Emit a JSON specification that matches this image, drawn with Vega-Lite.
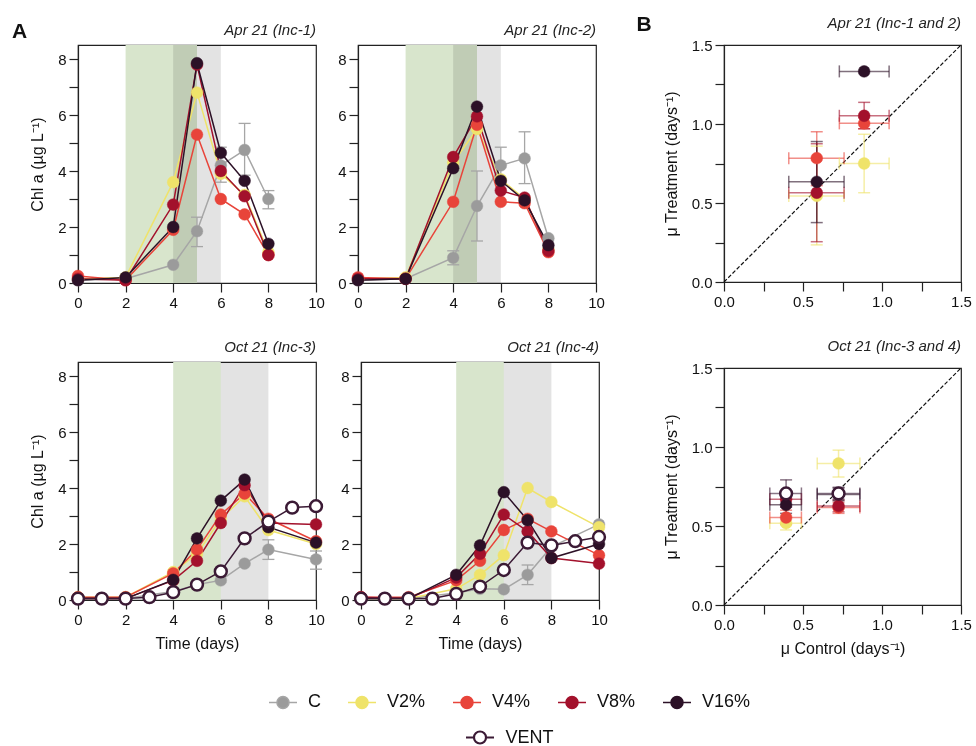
{
 "$schema": "https://vega.github.io/schema/vega-lite/v6.json",
 "padding": {"left": 12, "top": 14, "right": 2, "bottom": 0},
 "background": "white",
 "datasets": {
  "shade": [
   {"p":"I1","k":"g","t":2,"t2":5},{"p":"I1","k":"w","t":4,"t2":6},
   {"p":"I2","k":"g","t":2,"t2":5},{"p":"I2","k":"w","t":4,"t2":6},
   {"p":"I3","k":"g","t":4,"t2":6},{"p":"I3","k":"w","t":6,"t2":8},
   {"p":"I4","k":"g","t":4,"t2":6},{"p":"I4","k":"w","t":6,"t2":8}
  ],
  "ts": [
   {"p":"I1","s":"C","t":0,"v":0.1},{"p":"I1","s":"C","t":2,"v":0.15},{"p":"I1","s":"C","t":4,"v":0.65},{"p":"I1","s":"C","t":5,"v":1.85,"lo":1.3,"hi":2.35},{"p":"I1","s":"C","t":6,"v":4.2,"lo":3.6,"hi":4.85},{"p":"I1","s":"C","t":7,"v":4.75,"lo":3.85,"hi":5.7},{"p":"I1","s":"C","t":8,"v":3.0,"lo":2.65,"hi":3.3},
   {"p":"I1","s":"V2%","t":0,"v":0.15},{"p":"I1","s":"V2%","t":2,"v":0.2},{"p":"I1","s":"V2%","t":4,"v":3.6},{"p":"I1","s":"V2%","t":5,"v":6.8},{"p":"I1","s":"V2%","t":6,"v":3.9},{"p":"I1","s":"V2%","t":7,"v":3.15},{"p":"I1","s":"V2%","t":8,"v":1.1},
   {"p":"I1","s":"V4%","t":0,"v":0.25},{"p":"I1","s":"V4%","t":2,"v":0.1},{"p":"I1","s":"V4%","t":4,"v":1.9},{"p":"I1","s":"V4%","t":5,"v":5.3},{"p":"I1","s":"V4%","t":6,"v":3.0},{"p":"I1","s":"V4%","t":7,"v":2.45},{"p":"I1","s":"V4%","t":8,"v":1.0},
   {"p":"I1","s":"V8%","t":0,"v":0.15},{"p":"I1","s":"V8%","t":2,"v":0.1},{"p":"I1","s":"V8%","t":4,"v":2.8},{"p":"I1","s":"V8%","t":5,"v":7.8},{"p":"I1","s":"V8%","t":6,"v":4.0},{"p":"I1","s":"V8%","t":7,"v":3.1},{"p":"I1","s":"V8%","t":8,"v":1.0},
   {"p":"I1","s":"V16%","t":0,"v":0.1},{"p":"I1","s":"V16%","t":2,"v":0.2},{"p":"I1","s":"V16%","t":4,"v":2.0},{"p":"I1","s":"V16%","t":5,"v":7.85},{"p":"I1","s":"V16%","t":6,"v":4.65},{"p":"I1","s":"V16%","t":7,"v":3.65},{"p":"I1","s":"V16%","t":8,"v":1.4},

   {"p":"I2","s":"C","t":0,"v":0.1},{"p":"I2","s":"C","t":2,"v":0.15},{"p":"I2","s":"C","t":4,"v":0.9,"lo":0.65,"hi":1.15},{"p":"I2","s":"C","t":5,"v":2.75,"lo":1.5,"hi":4.0},{"p":"I2","s":"C","t":6,"v":4.2,"lo":3.5,"hi":4.85},{"p":"I2","s":"C","t":7,"v":4.45,"lo":3.55,"hi":5.4},{"p":"I2","s":"C","t":8,"v":1.6},
   {"p":"I2","s":"V2%","t":0,"v":0.15},{"p":"I2","s":"V2%","t":2,"v":0.2},{"p":"I2","s":"V2%","t":4,"v":4.3},{"p":"I2","s":"V2%","t":5,"v":5.5},{"p":"I2","s":"V2%","t":6,"v":3.7},{"p":"I2","s":"V2%","t":7,"v":3.0},{"p":"I2","s":"V2%","t":8,"v":1.2},
   {"p":"I2","s":"V4%","t":0,"v":0.2},{"p":"I2","s":"V4%","t":2,"v":0.15},{"p":"I2","s":"V4%","t":4,"v":2.9},{"p":"I2","s":"V4%","t":5,"v":5.65},{"p":"I2","s":"V4%","t":6,"v":2.9},{"p":"I2","s":"V4%","t":7,"v":2.85},{"p":"I2","s":"V4%","t":8,"v":1.1},
   {"p":"I2","s":"V8%","t":0,"v":0.15},{"p":"I2","s":"V8%","t":2,"v":0.15},{"p":"I2","s":"V8%","t":4,"v":4.5},{"p":"I2","s":"V8%","t":5,"v":5.95},{"p":"I2","s":"V8%","t":6,"v":3.3},{"p":"I2","s":"V8%","t":7,"v":3.05},{"p":"I2","s":"V8%","t":8,"v":1.15},
   {"p":"I2","s":"V16%","t":0,"v":0.1},{"p":"I2","s":"V16%","t":2,"v":0.15},{"p":"I2","s":"V16%","t":4,"v":4.1},{"p":"I2","s":"V16%","t":5,"v":6.3},{"p":"I2","s":"V16%","t":6,"v":3.65},{"p":"I2","s":"V16%","t":7,"v":2.95},{"p":"I2","s":"V16%","t":8,"v":1.35},

   {"p":"I3","s":"C","t":0,"v":0.05},{"p":"I3","s":"C","t":2,"v":0.05},{"p":"I3","s":"C","t":4,"v":0.3},{"p":"I3","s":"C","t":5,"v":0.55},{"p":"I3","s":"C","t":6,"v":0.7},{"p":"I3","s":"C","t":7,"v":1.3},{"p":"I3","s":"C","t":8,"v":1.8,"lo":1.45,"hi":2.15},{"p":"I3","s":"C","t":10,"v":1.45,"lo":1.1,"hi":1.75},
   {"p":"I3","s":"V2%","t":0,"v":0.1},{"p":"I3","s":"V2%","t":2,"v":0.1},{"p":"I3","s":"V2%","t":4,"v":1.0},{"p":"I3","s":"V2%","t":5,"v":1.65},{"p":"I3","s":"V2%","t":6,"v":2.9},{"p":"I3","s":"V2%","t":7,"v":3.7},{"p":"I3","s":"V2%","t":8,"v":2.5},{"p":"I3","s":"V2%","t":10,"v":2.0},
   {"p":"I3","s":"V4%","t":0,"v":0.1},{"p":"I3","s":"V4%","t":2,"v":0.1},{"p":"I3","s":"V4%","t":4,"v":0.95},{"p":"I3","s":"V4%","t":5,"v":1.8},{"p":"I3","s":"V4%","t":6,"v":3.05},{"p":"I3","s":"V4%","t":7,"v":3.8},{"p":"I3","s":"V4%","t":8,"v":2.9},{"p":"I3","s":"V4%","t":10,"v":2.1},
   {"p":"I3","s":"V8%","t":0,"v":0.05},{"p":"I3","s":"V8%","t":2,"v":0.05},{"p":"I3","s":"V8%","t":4,"v":0.7},{"p":"I3","s":"V8%","t":5,"v":1.4},{"p":"I3","s":"V8%","t":6,"v":2.75},{"p":"I3","s":"V8%","t":7,"v":4.1},{"p":"I3","s":"V8%","t":8,"v":2.75},{"p":"I3","s":"V8%","t":10,"v":2.7},
   {"p":"I3","s":"V16%","t":0,"v":0.05},{"p":"I3","s":"V16%","t":2,"v":0.05},{"p":"I3","s":"V16%","t":4,"v":0.72},{"p":"I3","s":"V16%","t":5,"v":2.2},{"p":"I3","s":"V16%","t":6,"v":3.55},{"p":"I3","s":"V16%","t":7,"v":4.3},{"p":"I3","s":"V16%","t":8,"v":2.6},{"p":"I3","s":"V16%","t":10,"v":2.05},
   {"p":"I3","s":"VENT","t":0,"v":0.05},{"p":"I3","s":"VENT","t":1,"v":0.05},{"p":"I3","s":"VENT","t":2,"v":0.05},{"p":"I3","s":"VENT","t":3,"v":0.1},{"p":"I3","s":"VENT","t":4,"v":0.28},{"p":"I3","s":"VENT","t":5,"v":0.55},{"p":"I3","s":"VENT","t":6,"v":1.02},{"p":"I3","s":"VENT","t":7,"v":2.2},{"p":"I3","s":"VENT","t":8,"v":2.8},{"p":"I3","s":"VENT","t":9,"v":3.3},{"p":"I3","s":"VENT","t":10,"v":3.35},

   {"p":"I4","s":"C","t":0,"v":0.05},{"p":"I4","s":"C","t":2,"v":0.05},{"p":"I4","s":"C","t":4,"v":0.25},{"p":"I4","s":"C","t":5,"v":0.4},{"p":"I4","s":"C","t":6,"v":0.38},{"p":"I4","s":"C","t":7,"v":0.9,"lo":0.55,"hi":1.25},{"p":"I4","s":"C","t":8,"v":1.9},{"p":"I4","s":"C","t":10,"v":2.7},
   {"p":"I4","s":"V2%","t":0,"v":0.05},{"p":"I4","s":"V2%","t":2,"v":0.05},{"p":"I4","s":"V2%","t":4,"v":0.4},{"p":"I4","s":"V2%","t":5,"v":0.9},{"p":"I4","s":"V2%","t":6,"v":1.6},{"p":"I4","s":"V2%","t":7,"v":4.0},{"p":"I4","s":"V2%","t":8,"v":3.5},{"p":"I4","s":"V2%","t":10,"v":2.6},
   {"p":"I4","s":"V4%","t":0,"v":0.1},{"p":"I4","s":"V4%","t":2,"v":0.1},{"p":"I4","s":"V4%","t":4,"v":0.7},{"p":"I4","s":"V4%","t":5,"v":1.4},{"p":"I4","s":"V4%","t":6,"v":2.5},{"p":"I4","s":"V4%","t":7,"v":2.9},{"p":"I4","s":"V4%","t":8,"v":2.45},{"p":"I4","s":"V4%","t":10,"v":1.6},
   {"p":"I4","s":"V8%","t":0,"v":0.1},{"p":"I4","s":"V8%","t":2,"v":0.05},{"p":"I4","s":"V8%","t":4,"v":0.8},{"p":"I4","s":"V8%","t":5,"v":1.65},{"p":"I4","s":"V8%","t":6,"v":3.05},{"p":"I4","s":"V8%","t":7,"v":2.45},{"p":"I4","s":"V8%","t":8,"v":1.5},{"p":"I4","s":"V8%","t":10,"v":1.3},
   {"p":"I4","s":"V16%","t":0,"v":0.05},{"p":"I4","s":"V16%","t":2,"v":0.05},{"p":"I4","s":"V16%","t":4,"v":0.9},{"p":"I4","s":"V16%","t":5,"v":1.95},{"p":"I4","s":"V16%","t":6,"v":3.85},{"p":"I4","s":"V16%","t":7,"v":2.85},{"p":"I4","s":"V16%","t":8,"v":1.5},{"p":"I4","s":"V16%","t":10,"v":2.0},
   {"p":"I4","s":"VENT","t":0,"v":0.05},{"p":"I4","s":"VENT","t":1,"v":0.05},{"p":"I4","s":"VENT","t":2,"v":0.05},{"p":"I4","s":"VENT","t":3,"v":0.05},{"p":"I4","s":"VENT","t":4,"v":0.22},{"p":"I4","s":"VENT","t":5,"v":0.48},{"p":"I4","s":"VENT","t":6,"v":1.07},{"p":"I4","s":"VENT","t":7,"v":2.05},{"p":"I4","s":"VENT","t":8,"v":1.95},{"p":"I4","s":"VENT","t":9,"v":2.1},{"p":"I4","s":"VENT","t":10,"v":2.25}
  ],
  "mu": [
   {"p":"A","s":"V2%","x":0.587,"y":0.545,"xlo":0.41,"xhi":0.76,"ylo":0.235,"yhi":0.86},
   {"p":"A","s":"V4%","x":0.587,"y":0.784,"xlo":0.41,"xhi":0.76,"ylo":0.61,"yhi":0.951},
   {"p":"A","s":"V8%","x":0.587,"y":0.565,"xlo":0.41,"xhi":0.76,"ylo":0.255,"yhi":0.875},
   {"p":"A","s":"V16%","x":0.587,"y":0.634,"xlo":0.41,"xhi":0.76,"ylo":0.376,"yhi":0.889},
   {"p":"A","s":"V2%","x":0.887,"y":0.75,"xlo":0.73,"xhi":1.045,"ylo":0.565,"yhi":0.935},
   {"p":"A","s":"V4%","x":0.887,"y":1.004,"xlo":0.73,"xhi":1.045,"ylo":0.97,"yhi":1.04},
   {"p":"A","s":"V8%","x":0.887,"y":1.052,"xlo":0.73,"xhi":1.045,"ylo":0.97,"yhi":1.137},
   {"p":"A","s":"V16%","x":0.887,"y":1.333,"xlo":0.73,"xhi":1.045},
   {"p":"O","s":"V2%","x":0.393,"y":0.518,"xlo":0.29,"xhi":0.49,"ylo":0.475,"yhi":0.56},
   {"p":"O","s":"V4%","x":0.393,"y":0.554,"xlo":0.29,"xhi":0.49,"ylo":0.51,"yhi":0.6},
   {"p":"O","s":"V8%","x":0.393,"y":0.67,"xlo":0.29,"xhi":0.49,"ylo":0.62,"yhi":0.72},
   {"p":"O","s":"V16%","x":0.393,"y":0.634,"xlo":0.29,"xhi":0.49,"ylo":0.58,"yhi":0.69},
   {"p":"O","s":"VENT","x":0.393,"y":0.706,"xlo":0.29,"xhi":0.49,"ylo":0.62,"yhi":0.792},
   {"p":"O","s":"V2%","x":0.725,"y":0.896,"xlo":0.59,"xhi":0.86,"ylo":0.81,"yhi":0.98},
   {"p":"O","s":"V4%","x":0.725,"y":0.617,"xlo":0.59,"xhi":0.86,"ylo":0.58,"yhi":0.65},
   {"p":"O","s":"V8%","x":0.725,"y":0.627,"xlo":0.59,"xhi":0.86,"ylo":0.59,"yhi":0.665},
   {"p":"O","s":"V16%","x":0.725,"y":0.70,"xlo":0.59,"xhi":0.86,"ylo":0.66,"yhi":0.74},
   {"p":"O","s":"VENT","x":0.725,"y":0.706,"xlo":0.59,"xhi":0.86,"ylo":0.67,"yhi":0.745}
  ]
 },
 "spacing": 25,
 "hconcat": [
  {
   "title": {"text": "A", "anchor": "start", "frame": "bounds", "fontSize": 21, "fontWeight": "bold", "fontStyle": "normal", "offset": -20, "dx": -17, "color": "#111"},
   "spacing": 28,
   "vconcat": [
    {"spacing": 12, "hconcat": [
     {"width": 238, "height": 238, "title": "Apr 21 (Inc-1)", "data": {"name": "ts"}, "transform": [{"filter": "datum.p==='I1'"}],
      "layer": [
       {"data": {"name": "shade"}, "transform": [{"filter": "datum.p==='I1' && datum.k==='g'"}], "mark": {"type": "rect", "color": "#d8e5cc"}, "encoding": {"x": {"field": "t", "type": "quantitative", "scale": {"domain": [0, 10], "nice": false}, "axis": {"values": [0,2,4,6,8,10], "title": null}}, "x2": {"field": "t2"}}},
       {"data": {"name": "shade"}, "transform": [{"filter": "datum.p==='I1' && datum.k==='w'"}], "mark": {"type": "rect", "color": "#e3e3e3", "blend": "multiply"}, "encoding": {"x": {"field": "t", "type": "quantitative", "scale": {"domain": [0, 10], "nice": false}, "axis": {"values": [0,2,4,6,8,10], "title": null}}, "x2": {"field": "t2"}}},
       {"transform": [{"filter": "datum.lo != null"}], "mark": {"type": "rule", "color": "#a6a6a6", "strokeWidth": 1.3}, "encoding": {"x": {"field": "t", "type": "quantitative", "scale": {"domain": [0, 10], "nice": false}, "axis": {"values": [0,2,4,6,8,10], "title": null}}, "y": {"field": "lo", "type": "quantitative", "scale": {"domain": [0, 8.5], "nice": false}, "axis": {"values": [0,1,2,3,4,5,6,7,8], "labelExpr": "datum.value % 2 === 0 ? datum.label : ''", "title": "Chl a (µg L⁻¹)"}}, "y2": {"field": "hi"}}},
       {"transform": [{"filter": "datum.lo != null"}, {"fold": ["lo", "hi"], "as": ["kk", "yc"]}], "mark": {"type": "point", "shape": "stroke", "size": 144, "stroke": "#a6a6a6", "strokeWidth": 1.3, "opacity": 1}, "encoding": {"x": {"field": "t", "type": "quantitative", "scale": {"domain": [0, 10], "nice": false}, "axis": {"values": [0,2,4,6,8,10], "title": null}}, "y": {"field": "yc", "type": "quantitative", "scale": {"domain": [0, 8.5], "nice": false}, "axis": {"values": [0,1,2,3,4,5,6,7,8], "labelExpr": "datum.value % 2 === 0 ? datum.label : ''", "title": "Chl a (µg L⁻¹)"}}}},
       {"mark": {"type": "line", "strokeWidth": 1.5}, "encoding": {"x": {"field": "t", "type": "quantitative", "scale": {"domain": [0, 10], "nice": false}, "axis": {"values": [0,2,4,6,8,10], "title": null}}, "y": {"field": "v", "type": "quantitative", "scale": {"domain": [0, 8.5], "nice": false}, "axis": {"values": [0,1,2,3,4,5,6,7,8], "labelExpr": "datum.value % 2 === 0 ? datum.label : ''", "title": "Chl a (µg L⁻¹)"}},
         "stroke": {"field": "s", "type": "nominal", "scale": {"domain": ["C","V2%","V4%","V8%","V16%","VENT"], "range": ["#a6a6a6","#efe36a","#e8443a","#a3112c","#2c1127","#3b1a35"]}, "legend": {"title": "·", "values": ["C","V2%","V4%","V8%","V16%"]}}}},
       {"mark": {"type": "point", "filled": true, "size": 140, "opacity": 1}, "encoding": {"x": {"field": "t", "type": "quantitative", "scale": {"domain": [0, 10], "nice": false}, "axis": {"values": [0,2,4,6,8,10], "title": null}}, "y": {"field": "v", "type": "quantitative", "scale": {"domain": [0, 8.5], "nice": false}, "axis": {"values": [0,1,2,3,4,5,6,7,8], "labelExpr": "datum.value % 2 === 0 ? datum.label : ''", "title": "Chl a (µg L⁻¹)"}},
         "stroke": {"field": "s", "type": "nominal", "scale": {"domain": ["C","V2%","V4%","V8%","V16%","VENT"], "range": ["#a6a6a6","#efe36a","#e8443a","#a3112c","#2c1127","#3b1a35"]}, "legend": {"title": "·", "values": ["C","V2%","V4%","V8%","V16%"]}},
         "fill": {"field": "s", "type": "nominal", "scale": {"domain": ["C","V2%","V4%","V8%","V16%","VENT"], "range": ["#9b9b9b","#efe36a","#e8443a","#a3112c","#2c1127","#ffffff"]}, "legend": {"title": "·", "values": ["C","V2%","V4%","V8%","V16%"]}},
         "strokeWidth": {"condition": {"test": "datum.s==='VENT'", "value": 2.5}, "value": 1},
         "strokeOpacity": {"condition": {"test": "datum.s==='VENT'", "value": 1}, "value": 0.45}}}
      ]},
     {"width": 238, "height": 238, "title": "Apr 21 (Inc-2)", "data": {"name": "ts"}, "transform": [{"filter": "datum.p==='I2'"}],
      "layer": [
       {"data": {"name": "shade"}, "transform": [{"filter": "datum.p==='I2' && datum.k==='g'"}], "mark": {"type": "rect", "color": "#d8e5cc"}, "encoding": {"x": {"field": "t", "type": "quantitative", "scale": {"domain": [0, 10], "nice": false}, "axis": {"values": [0,2,4,6,8,10], "title": null}}, "x2": {"field": "t2"}}},
       {"data": {"name": "shade"}, "transform": [{"filter": "datum.p==='I2' && datum.k==='w'"}], "mark": {"type": "rect", "color": "#e3e3e3", "blend": "multiply"}, "encoding": {"x": {"field": "t", "type": "quantitative", "scale": {"domain": [0, 10], "nice": false}, "axis": {"values": [0,2,4,6,8,10], "title": null}}, "x2": {"field": "t2"}}},
       {"transform": [{"filter": "datum.lo != null"}], "mark": {"type": "rule", "color": "#a6a6a6", "strokeWidth": 1.3}, "encoding": {"x": {"field": "t", "type": "quantitative", "scale": {"domain": [0, 10], "nice": false}, "axis": {"values": [0,2,4,6,8,10], "title": null}}, "y": {"field": "lo", "type": "quantitative", "scale": {"domain": [0, 8.5], "nice": false}, "axis": {"values": [0,1,2,3,4,5,6,7,8], "labelExpr": "datum.value % 2 === 0 ? datum.label : ''", "title": null}}, "y2": {"field": "hi"}}},
       {"transform": [{"filter": "datum.lo != null"}, {"fold": ["lo", "hi"], "as": ["kk", "yc"]}], "mark": {"type": "point", "shape": "stroke", "size": 144, "stroke": "#a6a6a6", "strokeWidth": 1.3, "opacity": 1}, "encoding": {"x": {"field": "t", "type": "quantitative", "scale": {"domain": [0, 10], "nice": false}, "axis": {"values": [0,2,4,6,8,10], "title": null}}, "y": {"field": "yc", "type": "quantitative", "scale": {"domain": [0, 8.5], "nice": false}, "axis": {"values": [0,1,2,3,4,5,6,7,8], "labelExpr": "datum.value % 2 === 0 ? datum.label : ''", "title": null}}}},
       {"mark": {"type": "line", "strokeWidth": 1.5}, "encoding": {"x": {"field": "t", "type": "quantitative", "scale": {"domain": [0, 10], "nice": false}, "axis": {"values": [0,2,4,6,8,10], "title": null}}, "y": {"field": "v", "type": "quantitative", "scale": {"domain": [0, 8.5], "nice": false}, "axis": {"values": [0,1,2,3,4,5,6,7,8], "labelExpr": "datum.value % 2 === 0 ? datum.label : ''", "title": null}},
         "stroke": {"field": "s", "type": "nominal", "scale": {"domain": ["C","V2%","V4%","V8%","V16%","VENT"], "range": ["#a6a6a6","#efe36a","#e8443a","#a3112c","#2c1127","#3b1a35"]}, "legend": {"title": "·", "values": ["C","V2%","V4%","V8%","V16%"]}}}},
       {"mark": {"type": "point", "filled": true, "size": 140, "opacity": 1}, "encoding": {"x": {"field": "t", "type": "quantitative", "scale": {"domain": [0, 10], "nice": false}, "axis": {"values": [0,2,4,6,8,10], "title": null}}, "y": {"field": "v", "type": "quantitative", "scale": {"domain": [0, 8.5], "nice": false}, "axis": {"values": [0,1,2,3,4,5,6,7,8], "labelExpr": "datum.value % 2 === 0 ? datum.label : ''", "title": null}},
         "stroke": {"field": "s", "type": "nominal", "scale": {"domain": ["C","V2%","V4%","V8%","V16%","VENT"], "range": ["#a6a6a6","#efe36a","#e8443a","#a3112c","#2c1127","#3b1a35"]}, "legend": {"title": "·", "values": ["C","V2%","V4%","V8%","V16%"]}},
         "fill": {"field": "s", "type": "nominal", "scale": {"domain": ["C","V2%","V4%","V8%","V16%","VENT"], "range": ["#9b9b9b","#efe36a","#e8443a","#a3112c","#2c1127","#ffffff"]}, "legend": {"title": "·", "values": ["C","V2%","V4%","V8%","V16%"]}},
         "strokeWidth": {"condition": {"test": "datum.s==='VENT'", "value": 2.5}, "value": 1},
         "strokeOpacity": {"condition": {"test": "datum.s==='VENT'", "value": 1}, "value": 0.45}}}
      ]}
    ]},
    {"spacing": 12, "hconcat": [
     {"width": 238, "height": 238, "title": "Oct 21 (Inc-3)", "data": {"name": "ts"}, "transform": [{"filter": "datum.p==='I3'"}],
      "layer": [
       {"data": {"name": "shade"}, "transform": [{"filter": "datum.p==='I3' && datum.k==='g'"}], "mark": {"type": "rect", "color": "#d8e5cc"}, "encoding": {"x": {"field": "t", "type": "quantitative", "scale": {"domain": [0, 10], "nice": false}, "axis": {"values": [0,2,4,6,8,10], "title": "Time (days)"}}, "x2": {"field": "t2"}}},
       {"data": {"name": "shade"}, "transform": [{"filter": "datum.p==='I3' && datum.k==='w'"}], "mark": {"type": "rect", "color": "#e3e3e3", "blend": "multiply"}, "encoding": {"x": {"field": "t", "type": "quantitative", "scale": {"domain": [0, 10], "nice": false}, "axis": {"values": [0,2,4,6,8,10], "title": "Time (days)"}}, "x2": {"field": "t2"}}},
       {"transform": [{"filter": "datum.lo != null"}], "mark": {"type": "rule", "color": "#a6a6a6", "strokeWidth": 1.3}, "encoding": {"x": {"field": "t", "type": "quantitative", "scale": {"domain": [0, 10], "nice": false}, "axis": {"values": [0,2,4,6,8,10], "title": "Time (days)"}}, "y": {"field": "lo", "type": "quantitative", "scale": {"domain": [0, 8.5], "nice": false}, "axis": {"values": [0,1,2,3,4,5,6,7,8], "labelExpr": "datum.value % 2 === 0 ? datum.label : ''", "title": "Chl a (µg L⁻¹)"}}, "y2": {"field": "hi"}}},
       {"transform": [{"filter": "datum.lo != null"}, {"fold": ["lo", "hi"], "as": ["kk", "yc"]}], "mark": {"type": "point", "shape": "stroke", "size": 144, "stroke": "#a6a6a6", "strokeWidth": 1.3, "opacity": 1}, "encoding": {"x": {"field": "t", "type": "quantitative", "scale": {"domain": [0, 10], "nice": false}, "axis": {"values": [0,2,4,6,8,10], "title": "Time (days)"}}, "y": {"field": "yc", "type": "quantitative", "scale": {"domain": [0, 8.5], "nice": false}, "axis": {"values": [0,1,2,3,4,5,6,7,8], "labelExpr": "datum.value % 2 === 0 ? datum.label : ''", "title": "Chl a (µg L⁻¹)"}}}},
       {"mark": {"type": "line", "strokeWidth": 1.5}, "encoding": {"x": {"field": "t", "type": "quantitative", "scale": {"domain": [0, 10], "nice": false}, "axis": {"values": [0,2,4,6,8,10], "title": "Time (days)"}}, "y": {"field": "v", "type": "quantitative", "scale": {"domain": [0, 8.5], "nice": false}, "axis": {"values": [0,1,2,3,4,5,6,7,8], "labelExpr": "datum.value % 2 === 0 ? datum.label : ''", "title": "Chl a (µg L⁻¹)"}},
         "stroke": {"field": "s", "type": "nominal", "scale": {"domain": ["C","V2%","V4%","V8%","V16%","VENT"], "range": ["#a6a6a6","#efe36a","#e8443a","#a3112c","#2c1127","#3b1a35"]}, "legend": {"title": "·", "values": ["C","V2%","V4%","V8%","V16%"]}}}},
       {"mark": {"type": "point", "filled": true, "size": 140, "opacity": 1}, "encoding": {"x": {"field": "t", "type": "quantitative", "scale": {"domain": [0, 10], "nice": false}, "axis": {"values": [0,2,4,6,8,10], "title": "Time (days)"}}, "y": {"field": "v", "type": "quantitative", "scale": {"domain": [0, 8.5], "nice": false}, "axis": {"values": [0,1,2,3,4,5,6,7,8], "labelExpr": "datum.value % 2 === 0 ? datum.label : ''", "title": "Chl a (µg L⁻¹)"}},
         "stroke": {"field": "s", "type": "nominal", "scale": {"domain": ["C","V2%","V4%","V8%","V16%","VENT"], "range": ["#a6a6a6","#efe36a","#e8443a","#a3112c","#2c1127","#3b1a35"]}, "legend": {"title": "·", "values": ["C","V2%","V4%","V8%","V16%"]}},
         "fill": {"field": "s", "type": "nominal", "scale": {"domain": ["C","V2%","V4%","V8%","V16%","VENT"], "range": ["#9b9b9b","#efe36a","#e8443a","#a3112c","#2c1127","#ffffff"]}, "legend": {"title": "·", "values": ["C","V2%","V4%","V8%","V16%"]}},
         "strokeWidth": {"condition": {"test": "datum.s==='VENT'", "value": 2.5}, "value": 1},
         "strokeOpacity": {"condition": {"test": "datum.s==='VENT'", "value": 1}, "value": 0.45}}},
       {"transform": [{"filter": "datum.s==='VENT'"}], "mark": {"type": "point", "fill": "#ffffff", "stroke": "#3b1a35", "strokeWidth": 2.2, "opacity": 0}, "encoding": {"x": {"field": "t", "type": "quantitative", "scale": {"domain": [0, 10], "nice": false}, "axis": {"values": [0,2,4,6,8,10], "title": "Time (days)"}}, "y": {"field": "v", "type": "quantitative", "scale": {"domain": [0, 8.5], "nice": false}, "axis": {"values": [0,1,2,3,4,5,6,7,8], "labelExpr": "datum.value % 2 === 0 ? datum.label : ''", "title": "Chl a (µg L⁻¹)"}},
         "shape": {"field": "s", "type": "nominal", "scale": {"domain": ["VENT"], "range": ["M-1,0L-0.43,0M0.43,0L1,0M-0.43,0A0.43,0.43,0,1,1,0.43,0A0.43,0.43,0,1,1,-0.43,0Z"]}, "legend": {"title": "·", "symbolOpacity": 1, "symbolStrokeWidth": 2.2, "symbolSize": 784}}}}
      ]},
     {"width": 238, "height": 238, "title": "Oct 21 (Inc-4)", "data": {"name": "ts"}, "transform": [{"filter": "datum.p==='I4'"}],
      "layer": [
       {"data": {"name": "shade"}, "transform": [{"filter": "datum.p==='I4' && datum.k==='g'"}], "mark": {"type": "rect", "color": "#d8e5cc"}, "encoding": {"x": {"field": "t", "type": "quantitative", "scale": {"domain": [0, 10], "nice": false}, "axis": {"values": [0,2,4,6,8,10], "title": "Time (days)"}}, "x2": {"field": "t2"}}},
       {"data": {"name": "shade"}, "transform": [{"filter": "datum.p==='I4' && datum.k==='w'"}], "mark": {"type": "rect", "color": "#e3e3e3", "blend": "multiply"}, "encoding": {"x": {"field": "t", "type": "quantitative", "scale": {"domain": [0, 10], "nice": false}, "axis": {"values": [0,2,4,6,8,10], "title": "Time (days)"}}, "x2": {"field": "t2"}}},
       {"transform": [{"filter": "datum.lo != null"}], "mark": {"type": "rule", "color": "#a6a6a6", "strokeWidth": 1.3}, "encoding": {"x": {"field": "t", "type": "quantitative", "scale": {"domain": [0, 10], "nice": false}, "axis": {"values": [0,2,4,6,8,10], "title": "Time (days)"}}, "y": {"field": "lo", "type": "quantitative", "scale": {"domain": [0, 8.5], "nice": false}, "axis": {"values": [0,1,2,3,4,5,6,7,8], "labelExpr": "datum.value % 2 === 0 ? datum.label : ''", "title": null}}, "y2": {"field": "hi"}}},
       {"transform": [{"filter": "datum.lo != null"}, {"fold": ["lo", "hi"], "as": ["kk", "yc"]}], "mark": {"type": "point", "shape": "stroke", "size": 144, "stroke": "#a6a6a6", "strokeWidth": 1.3, "opacity": 1}, "encoding": {"x": {"field": "t", "type": "quantitative", "scale": {"domain": [0, 10], "nice": false}, "axis": {"values": [0,2,4,6,8,10], "title": "Time (days)"}}, "y": {"field": "yc", "type": "quantitative", "scale": {"domain": [0, 8.5], "nice": false}, "axis": {"values": [0,1,2,3,4,5,6,7,8], "labelExpr": "datum.value % 2 === 0 ? datum.label : ''", "title": null}}}},
       {"mark": {"type": "line", "strokeWidth": 1.5}, "encoding": {"x": {"field": "t", "type": "quantitative", "scale": {"domain": [0, 10], "nice": false}, "axis": {"values": [0,2,4,6,8,10], "title": "Time (days)"}}, "y": {"field": "v", "type": "quantitative", "scale": {"domain": [0, 8.5], "nice": false}, "axis": {"values": [0,1,2,3,4,5,6,7,8], "labelExpr": "datum.value % 2 === 0 ? datum.label : ''", "title": null}},
         "stroke": {"field": "s", "type": "nominal", "scale": {"domain": ["C","V2%","V4%","V8%","V16%","VENT"], "range": ["#a6a6a6","#efe36a","#e8443a","#a3112c","#2c1127","#3b1a35"]}, "legend": {"title": "·", "values": ["C","V2%","V4%","V8%","V16%"]}}}},
       {"mark": {"type": "point", "filled": true, "size": 140, "opacity": 1}, "encoding": {"x": {"field": "t", "type": "quantitative", "scale": {"domain": [0, 10], "nice": false}, "axis": {"values": [0,2,4,6,8,10], "title": "Time (days)"}}, "y": {"field": "v", "type": "quantitative", "scale": {"domain": [0, 8.5], "nice": false}, "axis": {"values": [0,1,2,3,4,5,6,7,8], "labelExpr": "datum.value % 2 === 0 ? datum.label : ''", "title": null}},
         "stroke": {"field": "s", "type": "nominal", "scale": {"domain": ["C","V2%","V4%","V8%","V16%","VENT"], "range": ["#a6a6a6","#efe36a","#e8443a","#a3112c","#2c1127","#3b1a35"]}, "legend": {"title": "·", "values": ["C","V2%","V4%","V8%","V16%"]}},
         "fill": {"field": "s", "type": "nominal", "scale": {"domain": ["C","V2%","V4%","V8%","V16%","VENT"], "range": ["#9b9b9b","#efe36a","#e8443a","#a3112c","#2c1127","#ffffff"]}, "legend": {"title": "·", "values": ["C","V2%","V4%","V8%","V16%"]}},
         "strokeWidth": {"condition": {"test": "datum.s==='VENT'", "value": 2.5}, "value": 1},
         "strokeOpacity": {"condition": {"test": "datum.s==='VENT'", "value": 1}, "value": 0.45}}}
      ]}
    ]}
   ]
  },
  {
   "title": {"text": "B", "anchor": "start", "frame": "bounds", "fontSize": 21, "fontWeight": "bold", "fontStyle": "normal", "offset": -20, "dx": -26, "color": "#111"},
   "spacing": 28,
   "vconcat": [
    {"width": 237, "height": 237, "title": "Apr 21 (Inc-1 and 2)", "data": {"name": "mu"}, "transform": [{"filter": "datum.p==='A'"}],
     "layer": [
      {"data": {"values": [{}]}, "mark": {"type": "rule", "strokeDash": [4, 2], "color": "#111", "strokeWidth": 1.2}, "encoding": {"x": {"datum": 0, "type": "quantitative", "scale": {"domain": [0, 1.5], "nice": false}, "axis": {"values": [0,0.25,0.5,0.75,1,1.25,1.5], "format": ".1f", "labelExpr": "(datum.value * 2) % 1 === 0 ? datum.label : ''", "title": null}}, "y": {"datum": 0, "type": "quantitative", "scale": {"domain": [0, 1.5], "nice": false}, "axis": {"values": [0,0.25,0.5,0.75,1,1.25,1.5], "format": ".1f", "labelExpr": "(datum.value * 2) % 1 === 0 ? datum.label : ''", "title": "μ Treatment (days⁻¹)"}}, "x2": {"datum": 1.5}, "y2": {"datum": 1.5}}},
      {"mark": {"type": "rule", "strokeWidth": 1.5, "opacity": 0.6}, "encoding": {"x": {"field": "xlo", "type": "quantitative", "scale": {"domain": [0, 1.5], "nice": false}, "axis": {"values": [0,0.25,0.5,0.75,1,1.25,1.5], "format": ".1f", "labelExpr": "(datum.value * 2) % 1 === 0 ? datum.label : ''", "title": null}}, "x2": {"field": "xhi"}, "y": {"field": "y", "type": "quantitative", "scale": {"domain": [0, 1.5], "nice": false}, "axis": {"values": [0,0.25,0.5,0.75,1,1.25,1.5], "format": ".1f", "labelExpr": "(datum.value * 2) % 1 === 0 ? datum.label : ''", "title": "μ Treatment (days⁻¹)"}},
        "stroke": {"field": "s", "type": "nominal", "scale": {"domain": ["C","V2%","V4%","V8%","V16%","VENT"], "range": ["#a6a6a6","#efe36a","#e8443a","#a3112c","#2c1127","#3b1a35"]}, "legend": {"title": "·", "values": ["C","V2%","V4%","V8%","V16%"]}}}},
      {"transform": [{"filter": "datum.ylo != null"}], "mark": {"type": "rule", "strokeWidth": 1.5, "opacity": 0.6}, "encoding": {"x": {"field": "x", "type": "quantitative", "scale": {"domain": [0, 1.5], "nice": false}, "axis": {"values": [0,0.25,0.5,0.75,1,1.25,1.5], "format": ".1f", "labelExpr": "(datum.value * 2) % 1 === 0 ? datum.label : ''", "title": null}}, "y": {"field": "ylo", "type": "quantitative", "scale": {"domain": [0, 1.5], "nice": false}, "axis": {"values": [0,0.25,0.5,0.75,1,1.25,1.5], "format": ".1f", "labelExpr": "(datum.value * 2) % 1 === 0 ? datum.label : ''", "title": "μ Treatment (days⁻¹)"}}, "y2": {"field": "yhi"},
        "stroke": {"field": "s", "type": "nominal", "scale": {"domain": ["C","V2%","V4%","V8%","V16%","VENT"], "range": ["#a6a6a6","#efe36a","#e8443a","#a3112c","#2c1127","#3b1a35"]}, "legend": {"title": "·", "values": ["C","V2%","V4%","V8%","V16%"]}}}},
      {"transform": [{"fold": ["xlo", "xhi"], "as": ["kk", "xc"]}], "mark": {"type": "point", "shape": "M0,-1L0,1", "size": 144, "strokeWidth": 1.5, "opacity": 0.6, "filled": false}, "encoding": {"x": {"field": "xc", "type": "quantitative", "scale": {"domain": [0, 1.5], "nice": false}, "axis": {"values": [0,0.25,0.5,0.75,1,1.25,1.5], "format": ".1f", "labelExpr": "(datum.value * 2) % 1 === 0 ? datum.label : ''", "title": null}}, "y": {"field": "y", "type": "quantitative", "scale": {"domain": [0, 1.5], "nice": false}, "axis": {"values": [0,0.25,0.5,0.75,1,1.25,1.5], "format": ".1f", "labelExpr": "(datum.value * 2) % 1 === 0 ? datum.label : ''", "title": "μ Treatment (days⁻¹)"}},
        "stroke": {"field": "s", "type": "nominal", "scale": {"domain": ["C","V2%","V4%","V8%","V16%","VENT"], "range": ["#a6a6a6","#efe36a","#e8443a","#a3112c","#2c1127","#3b1a35"]}, "legend": {"title": "·", "values": ["C","V2%","V4%","V8%","V16%"]}}}},
      {"transform": [{"filter": "datum.ylo != null"}, {"fold": ["ylo", "yhi"], "as": ["kk", "yc"]}], "mark": {"type": "point", "shape": "stroke", "size": 144, "strokeWidth": 1.5, "opacity": 0.6, "filled": false}, "encoding": {"x": {"field": "x", "type": "quantitative", "scale": {"domain": [0, 1.5], "nice": false}, "axis": {"values": [0,0.25,0.5,0.75,1,1.25,1.5], "format": ".1f", "labelExpr": "(datum.value * 2) % 1 === 0 ? datum.label : ''", "title": null}}, "y": {"field": "yc", "type": "quantitative", "scale": {"domain": [0, 1.5], "nice": false}, "axis": {"values": [0,0.25,0.5,0.75,1,1.25,1.5], "format": ".1f", "labelExpr": "(datum.value * 2) % 1 === 0 ? datum.label : ''", "title": "μ Treatment (days⁻¹)"}},
        "stroke": {"field": "s", "type": "nominal", "scale": {"domain": ["C","V2%","V4%","V8%","V16%","VENT"], "range": ["#a6a6a6","#efe36a","#e8443a","#a3112c","#2c1127","#3b1a35"]}, "legend": {"title": "·", "values": ["C","V2%","V4%","V8%","V16%"]}}}},
      {"mark": {"type": "point", "filled": true, "size": 140, "opacity": 1}, "encoding": {"x": {"field": "x", "type": "quantitative", "scale": {"domain": [0, 1.5], "nice": false}, "axis": {"values": [0,0.25,0.5,0.75,1,1.25,1.5], "format": ".1f", "labelExpr": "(datum.value * 2) % 1 === 0 ? datum.label : ''", "title": null}}, "y": {"field": "y", "type": "quantitative", "scale": {"domain": [0, 1.5], "nice": false}, "axis": {"values": [0,0.25,0.5,0.75,1,1.25,1.5], "format": ".1f", "labelExpr": "(datum.value * 2) % 1 === 0 ? datum.label : ''", "title": "μ Treatment (days⁻¹)"}},
        "stroke": {"field": "s", "type": "nominal", "scale": {"domain": ["C","V2%","V4%","V8%","V16%","VENT"], "range": ["#a6a6a6","#efe36a","#e8443a","#a3112c","#2c1127","#3b1a35"]}, "legend": {"title": "·", "values": ["C","V2%","V4%","V8%","V16%"]}},
        "fill": {"field": "s", "type": "nominal", "scale": {"domain": ["C","V2%","V4%","V8%","V16%","VENT"], "range": ["#9b9b9b","#efe36a","#e8443a","#a3112c","#2c1127","#ffffff"]}, "legend": {"title": "·", "values": ["C","V2%","V4%","V8%","V16%"]}},
        "strokeWidth": {"condition": {"test": "datum.s==='VENT'", "value": 2.5}, "value": 1},
        "strokeOpacity": {"condition": {"test": "datum.s==='VENT'", "value": 1}, "value": 0.45}}}
     ]},
    {"width": 237, "height": 237, "title": "Oct 21 (Inc-3 and 4)", "data": {"name": "mu"}, "transform": [{"filter": "datum.p==='O'"}],
     "layer": [
      {"data": {"values": [{}]}, "mark": {"type": "rule", "strokeDash": [4, 2], "color": "#111", "strokeWidth": 1.2}, "encoding": {"x": {"datum": 0, "type": "quantitative", "scale": {"domain": [0, 1.5], "nice": false}, "axis": {"values": [0,0.25,0.5,0.75,1,1.25,1.5], "format": ".1f", "labelExpr": "(datum.value * 2) % 1 === 0 ? datum.label : ''", "title": "μ Control (days⁻¹)"}}, "y": {"datum": 0, "type": "quantitative", "scale": {"domain": [0, 1.5], "nice": false}, "axis": {"values": [0,0.25,0.5,0.75,1,1.25,1.5], "format": ".1f", "labelExpr": "(datum.value * 2) % 1 === 0 ? datum.label : ''", "title": "μ Treatment (days⁻¹)"}}, "x2": {"datum": 1.5}, "y2": {"datum": 1.5}}},
      {"mark": {"type": "rule", "strokeWidth": 1.5, "opacity": 0.6}, "encoding": {"x": {"field": "xlo", "type": "quantitative", "scale": {"domain": [0, 1.5], "nice": false}, "axis": {"values": [0,0.25,0.5,0.75,1,1.25,1.5], "format": ".1f", "labelExpr": "(datum.value * 2) % 1 === 0 ? datum.label : ''", "title": "μ Control (days⁻¹)"}}, "x2": {"field": "xhi"}, "y": {"field": "y", "type": "quantitative", "scale": {"domain": [0, 1.5], "nice": false}, "axis": {"values": [0,0.25,0.5,0.75,1,1.25,1.5], "format": ".1f", "labelExpr": "(datum.value * 2) % 1 === 0 ? datum.label : ''", "title": "μ Treatment (days⁻¹)"}},
        "stroke": {"field": "s", "type": "nominal", "scale": {"domain": ["C","V2%","V4%","V8%","V16%","VENT"], "range": ["#a6a6a6","#efe36a","#e8443a","#a3112c","#2c1127","#3b1a35"]}, "legend": {"title": "·", "values": ["C","V2%","V4%","V8%","V16%"]}}}},
      {"transform": [{"filter": "datum.ylo != null"}], "mark": {"type": "rule", "strokeWidth": 1.5, "opacity": 0.6}, "encoding": {"x": {"field": "x", "type": "quantitative", "scale": {"domain": [0, 1.5], "nice": false}, "axis": {"values": [0,0.25,0.5,0.75,1,1.25,1.5], "format": ".1f", "labelExpr": "(datum.value * 2) % 1 === 0 ? datum.label : ''", "title": "μ Control (days⁻¹)"}}, "y": {"field": "ylo", "type": "quantitative", "scale": {"domain": [0, 1.5], "nice": false}, "axis": {"values": [0,0.25,0.5,0.75,1,1.25,1.5], "format": ".1f", "labelExpr": "(datum.value * 2) % 1 === 0 ? datum.label : ''", "title": "μ Treatment (days⁻¹)"}}, "y2": {"field": "yhi"},
        "stroke": {"field": "s", "type": "nominal", "scale": {"domain": ["C","V2%","V4%","V8%","V16%","VENT"], "range": ["#a6a6a6","#efe36a","#e8443a","#a3112c","#2c1127","#3b1a35"]}, "legend": {"title": "·", "values": ["C","V2%","V4%","V8%","V16%"]}}}},
      {"transform": [{"fold": ["xlo", "xhi"], "as": ["kk", "xc"]}], "mark": {"type": "point", "shape": "M0,-1L0,1", "size": 144, "strokeWidth": 1.5, "opacity": 0.6, "filled": false}, "encoding": {"x": {"field": "xc", "type": "quantitative", "scale": {"domain": [0, 1.5], "nice": false}, "axis": {"values": [0,0.25,0.5,0.75,1,1.25,1.5], "format": ".1f", "labelExpr": "(datum.value * 2) % 1 === 0 ? datum.label : ''", "title": "μ Control (days⁻¹)"}}, "y": {"field": "y", "type": "quantitative", "scale": {"domain": [0, 1.5], "nice": false}, "axis": {"values": [0,0.25,0.5,0.75,1,1.25,1.5], "format": ".1f", "labelExpr": "(datum.value * 2) % 1 === 0 ? datum.label : ''", "title": "μ Treatment (days⁻¹)"}},
        "stroke": {"field": "s", "type": "nominal", "scale": {"domain": ["C","V2%","V4%","V8%","V16%","VENT"], "range": ["#a6a6a6","#efe36a","#e8443a","#a3112c","#2c1127","#3b1a35"]}, "legend": {"title": "·", "values": ["C","V2%","V4%","V8%","V16%"]}}}},
      {"transform": [{"filter": "datum.ylo != null"}, {"fold": ["ylo", "yhi"], "as": ["kk", "yc"]}], "mark": {"type": "point", "shape": "stroke", "size": 144, "strokeWidth": 1.5, "opacity": 0.6, "filled": false}, "encoding": {"x": {"field": "x", "type": "quantitative", "scale": {"domain": [0, 1.5], "nice": false}, "axis": {"values": [0,0.25,0.5,0.75,1,1.25,1.5], "format": ".1f", "labelExpr": "(datum.value * 2) % 1 === 0 ? datum.label : ''", "title": "μ Control (days⁻¹)"}}, "y": {"field": "yc", "type": "quantitative", "scale": {"domain": [0, 1.5], "nice": false}, "axis": {"values": [0,0.25,0.5,0.75,1,1.25,1.5], "format": ".1f", "labelExpr": "(datum.value * 2) % 1 === 0 ? datum.label : ''", "title": "μ Treatment (days⁻¹)"}},
        "stroke": {"field": "s", "type": "nominal", "scale": {"domain": ["C","V2%","V4%","V8%","V16%","VENT"], "range": ["#a6a6a6","#efe36a","#e8443a","#a3112c","#2c1127","#3b1a35"]}, "legend": {"title": "·", "values": ["C","V2%","V4%","V8%","V16%"]}}}},
      {"mark": {"type": "point", "filled": true, "size": 140, "opacity": 1}, "encoding": {"x": {"field": "x", "type": "quantitative", "scale": {"domain": [0, 1.5], "nice": false}, "axis": {"values": [0,0.25,0.5,0.75,1,1.25,1.5], "format": ".1f", "labelExpr": "(datum.value * 2) % 1 === 0 ? datum.label : ''", "title": "μ Control (days⁻¹)"}}, "y": {"field": "y", "type": "quantitative", "scale": {"domain": [0, 1.5], "nice": false}, "axis": {"values": [0,0.25,0.5,0.75,1,1.25,1.5], "format": ".1f", "labelExpr": "(datum.value * 2) % 1 === 0 ? datum.label : ''", "title": "μ Treatment (days⁻¹)"}},
        "stroke": {"field": "s", "type": "nominal", "scale": {"domain": ["C","V2%","V4%","V8%","V16%","VENT"], "range": ["#a6a6a6","#efe36a","#e8443a","#a3112c","#2c1127","#3b1a35"]}, "legend": {"title": "·", "values": ["C","V2%","V4%","V8%","V16%"]}},
        "fill": {"field": "s", "type": "nominal", "scale": {"domain": ["C","V2%","V4%","V8%","V16%","VENT"], "range": ["#9b9b9b","#efe36a","#e8443a","#a3112c","#2c1127","#ffffff"]}, "legend": {"title": "·", "values": ["C","V2%","V4%","V8%","V16%"]}},
        "strokeWidth": {"condition": {"test": "datum.s==='VENT'", "value": 2.5}, "value": 1},
        "strokeOpacity": {"condition": {"test": "datum.s==='VENT'", "value": 1}, "value": 0.45}}}
     ]}
   ]
  }
 ],
 "config": {
  "font": "Liberation Sans",
  "view": {"stroke": "#222", "strokeWidth": 1.2},
  "axis": {"grid": false, "domainColor": "#222", "domainWidth": 1.2, "tickColor": "#222", "tickWidth": 1.2, "tickSize": 9, "labelFontSize": 15, "labelColor": "#111", "labelPadding": 3, "titleFontSize": 16, "titleFontWeight": "normal", "titleColor": "#111", "labelFlush": false, "labelOverlap": false},
  "axisY": {"titlePadding": 12},
  "axisX": {"titlePadding": 8},
  "title": {"fontSize": 15, "fontStyle": "italic", "fontWeight": "normal", "anchor": "end", "offset": 7, "color": "#222", "frame": "group"},
  "legend": {"orient": "bottom", "direction": "horizontal", "symbolType": "M-1,0L-0.43,0M0.43,0L1,0M-0.43,0A0.43,0.43,0,1,1,0.43,0A0.43,0.43,0,1,1,-0.43,0Z", "symbolSize": 784, "symbolStrokeWidth": 1.5, "labelFontSize": 18, "columnPadding": 24, "labelOffset": 10, "labelColor": "#111", "offset": 30, "titleOrient": "left", "titleFontSize": 2, "titleOpacity": 0, "titlePadding": 34, "layout": {"bottom": {"anchor": "middle", "direction": "vertical", "center": true, "margin": 10}}}
 }
}
